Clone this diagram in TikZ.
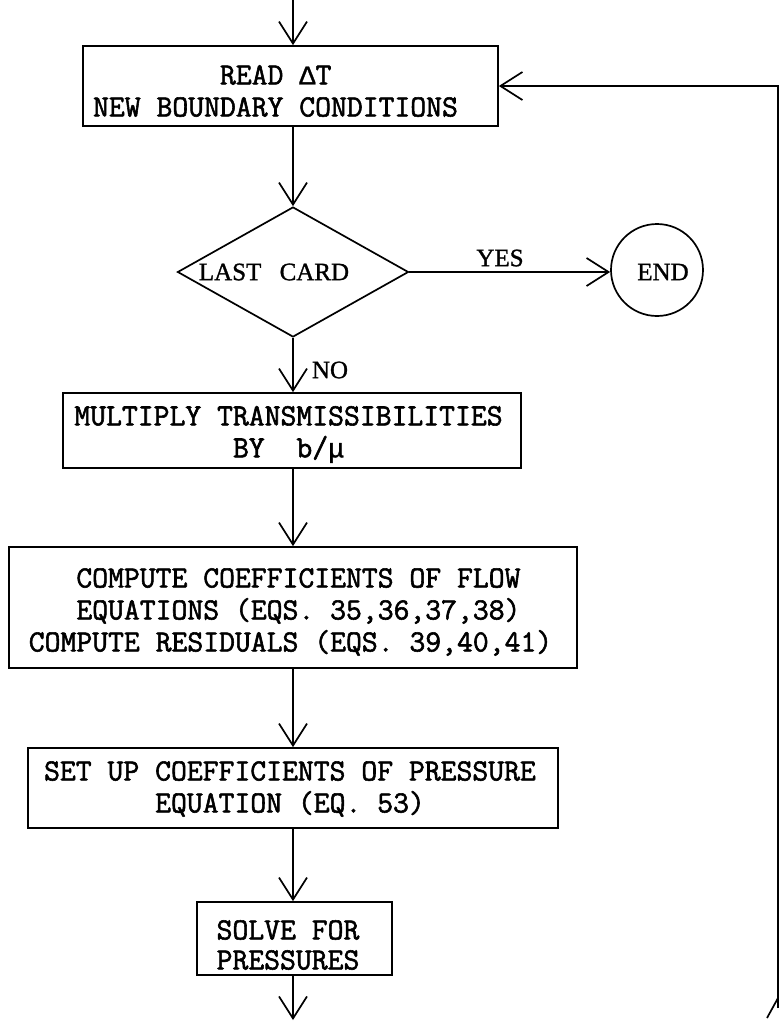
\documentclass[tikz,border=0pt]{standalone}
\usepackage{fontspec}
\setmainfont{Liberation Serif}[FakeBold=1.2]
\setmonofont{Latin Modern Mono}[FakeBold=1.8]
\newfontfamily\gkfont{Liberation Mono}[FakeBold=1.2]
\newcommand\gk[1]{{\gkfont\fontsize{27}{32}\selectfont #1}}
\usetikzlibrary{shapes.geometric,arrows.meta}
\begin{document}
\begin{tikzpicture}[x=1pt,y=-1pt,
  ln/.style={line width=1.7pt},
  flow/.style={draw, ln, -{Straight Barb[length=22pt,width=28pt]}},
  box/.style={draw, ln, rectangle, inner sep=0pt},
  tt/.style={font=\ttfamily\fontsize{30.8}{32}\selectfont, align=left, inner sep=0pt},
  rm/.style={font=\fontsize{25}{28}\selectfont, inner sep=0pt}]
\useasboundingbox (0,0) rectangle (779,1021);
\coordinate (ax) at (293,0);
% boxes
\node[box, minimum width=415pt, minimum height=80pt] (b1) at (290.5,86) {};
\node[tt] (t1) at (275.5,91) {\hphantom{XXXXXXXX}READ \gk{Δ}T\\NEW BOUNDARY CONDITIONS};
\node[draw, ln, diamond, minimum width=231pt, minimum height=130pt, inner sep=0pt] (d) at (293,272) {};
\node[rm] (tlast) at (274,272) {LAST\hspace{12pt} CARD};
\node[draw, ln, circle, minimum size=92pt, inner sep=0pt] (end) at (657,270) {};
\node[rm] (tend) at (663,272) {END};
\node[rm] (tyes) at (500,258) {YES};
\node[rm] (tno) at (330,370) {NO};
\node[box, minimum width=458pt, minimum height=75pt] (b3) at (292,430.5) {};
\node[tt] (t3) at (288.5,434.5) {MULTIPLY TRANSMISSIBILITIES\\\hphantom{XXXXXXXXXX}BY\ \ b/\gk{μ}};
\node[box, minimum width=568pt, minimum height=121pt] (b4) at (293,607.5) {};
\node[tt] (t4) at (290.5,612) {\hphantom{XXX}COMPUTE COEFFICIENTS OF FLOW\\\hphantom{XXX}EQUATIONS (EQS. 35,36,37,38)\\COMPUTE RESIDUALS (EQS. 39,40,41)};
\node[box, minimum width=530pt, minimum height=80pt] (b5) at (293,788) {};
\node[tt] (t5) at (290,789) {SET UP COEFFICIENTS OF PRESSURE\\\hphantom{XXXXXXX}EQUATION (EQ. 53)};
\node[box, minimum width=195pt, minimum height=73pt] (b6) at (294.5,938.5) {};
\node[tt] (t6) at (288,945) {SOLVE FOR\\[-2pt]PRESSURES};
% connectors
\coordinate (top) at (293,0);
\coordinate (bot) at (293,1020);
\draw[flow] (top) -- (top |- b1.north);
\draw[flow] (b1.south -| ax) -- (d.north);
\draw[flow] (d.east) -- (d.east -| end.west);
\draw[flow] (d.south) -- (b3.north -| ax);
\draw[flow] (b3.south -| ax) -- (b4.north -| ax);
\draw[flow] (b4.south -| ax) -- (b5.north -| ax);
\draw[flow] (b5.south -| ax) -- (b6.north -| ax);
\draw[flow] (b6.south -| ax) -- (bot);
\coordinate (fb) at (778,1008);
\draw[flow] (fb) |- (b1.east);
\coordinate (fbt) at (778,998);
\coordinate (fbl) at (767,1018);
\draw[ln] (fbl) -- (fbt);
\end{tikzpicture}
\end{document}
